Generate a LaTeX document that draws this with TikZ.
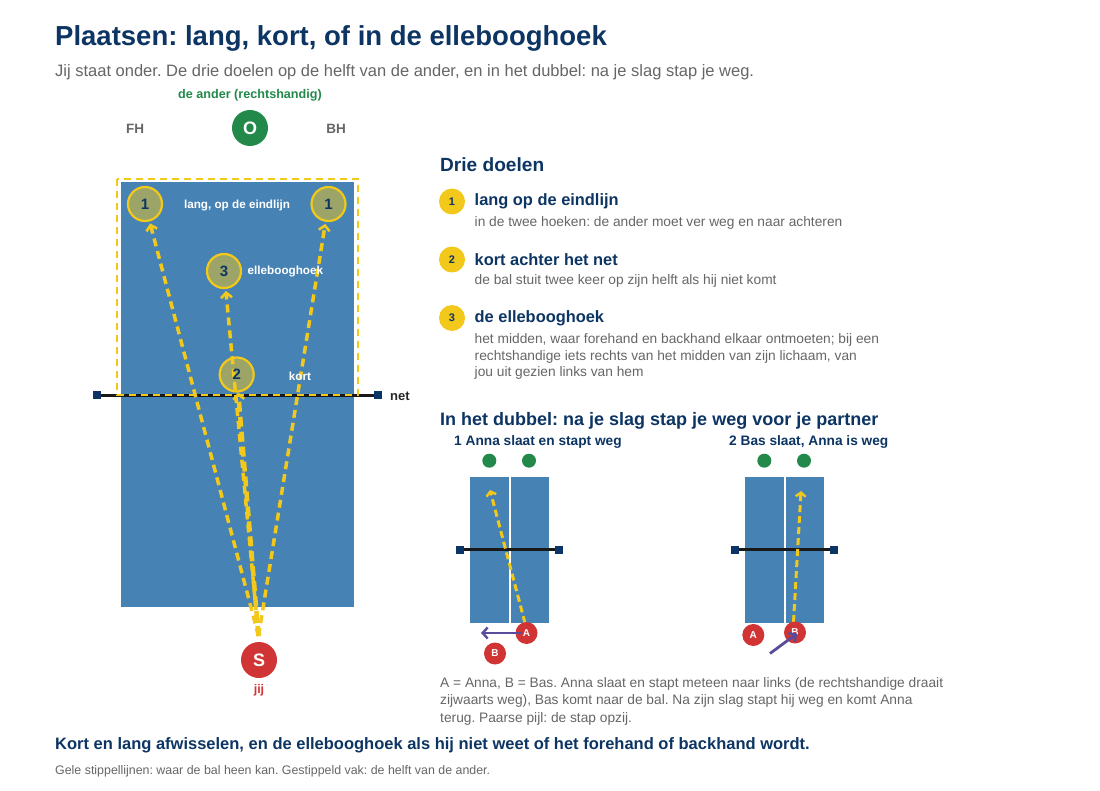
\documentclass[tikz,border=0pt]{standalone}
\usepackage{fontspec}
\setmainfont{Liberation Sans}
\usetikzlibrary{arrows.meta}
\definecolor{navy}{HTML}{0D3563}
\definecolor{txtgray}{HTML}{666666}
\definecolor{oppgreen}{HTML}{22894A}
\definecolor{tblue}{HTML}{4682B4}
\definecolor{ballyel}{HTML}{F2C81B}
\definecolor{pred}{HTML}{D03434}
\definecolor{netnavy}{HTML}{0B3566}
\definecolor{purp}{HTML}{5B4B9B}
\newcommand{\fsz}[1]{\fontsize{#1}{#1}\selectfont}
\frenchspacing
\pgfdeclarelayer{back}
\pgfdeclarelayer{mid}
\pgfsetlayers{back,mid,main}
\begin{document}
\begin{tikzpicture}[x=1pt,y=-1pt,
  txt/.style={inner sep=0pt, anchor=west},
  target/.style={circle, draw=ballyel, line width=2.2pt, fill=ballyel, fill opacity=0.5, text opacity=1, minimum size=34pt, inner sep=0pt, font=\bfseries\fsz{15}, text=navy},
  badge/.style={circle, fill=ballyel, minimum size=26pt, inner sep=0pt, font=\bfseries\fsz{11}, text=navy},
  ballpath/.style={draw=ballyel, line width=3.5pt, dash pattern=on 8pt off 5pt, -{Straight Barb[length=5pt,width=11pt,line width=2.6pt]}},
  smallpath/.style={draw=ballyel, line width=3pt, dash pattern=on 7pt off 4pt, -{Straight Barb[length=4pt,width=10pt,line width=2.4pt]}},
  steparrow/.style={draw=purp, line width=2.8pt, -{Straight Barb[length=5pt,width=11pt,line width=2.4pt]}},
  player/.style={circle, fill=pred, text=white, inner sep=0pt, minimum size=36pt, font=\bfseries\fsz{18}},
  smallplayer/.style={circle, fill=pred, text=white, inner sep=0pt, minimum size=22pt, font=\bfseries\fsz{10}},
  gdot/.style={circle, fill=oppgreen, inner sep=0pt, minimum size=14pt},
  netend/.style={rectangle, fill=netnavy, inner sep=0pt, minimum size=8pt},
  netline/.style={draw=black!90, line width=3pt},
  tablebox/.style={fill=tblue, draw=white, line width=1.5pt},
  desc/.style={txt, text=txtgray, font=\fsz{13.75}},
  head/.style={txt, text=navy, font=\bfseries\fsz{16.4}},
]
\useasboundingbox (0,0) rectangle (1100,791);
\begin{pgfonlayer}{back}
\fill[white] (0,0) rectangle (1100,791);
\end{pgfonlayer}

% titles
\node[txt, text=navy, font=\bfseries\fsz{27.5}] (title) at (55,38) {Plaatsen: lang, kort, of in de ellebooghoek};
\node[txt, text=txtgray, font=\fsz{16.5}] (subtitle) at (55,72) {Jij staat onder. De drie doelen op de helft van de ander, en in het dubbel: na je slag stap je weg.};

% opponent
\node[inner sep=0pt, text=oppgreen, font=\bfseries\fsz{12.6}] (anderlbl) at (250,95) {de ander (rechtshandig)};
\node[inner sep=0pt, text=txtgray, font=\bfseries\fsz{13.5}] (fh) at (135,129) {FH};
\node[inner sep=0pt, text=txtgray, font=\bfseries\fsz{13.5}] (bh) at (336,129) {BH};
\node[circle, fill=oppgreen, text=white, inner sep=0pt, minimum size=36pt, font=\bfseries\fsz{18}] (O) at (250,128) {O};

% main table
\begin{pgfonlayer}{back}
\path[tablebox] (120,181) rectangle (355,608);
\draw[netline] (96.5,395) -- (378,395);
\draw[ballyel, line width=2.6pt, dash pattern=on 7pt off 5pt] (117,179) rectangle (358,395);
\end{pgfonlayer}
\node[netend] (netL) at (96.5,395) {};
\node[netend] (netR) at (378,395) {};
\node[txt, text=black!85, font=\bfseries\fsz{13}] (netlbl) at (390,396) {net};

% targets
\node[target] (t1l) at (145,204) {1};
\node[target] (t1r) at (328.5,204) {1};
\node[target] (t3) at (224,271) {3};
\node[target] (t2) at (236.7,374.5) {2};
\node[inner sep=0pt, text=white, font=\bfseries\fsz{11.7}] (langlbl) at (237,206) {lang, op de eindlijn};
\node[txt, text=white, font=\bfseries\fsz{11.7}] (ellbl) at (247.5,271.5) {ellebooghoek};
\node[inner sep=0pt, text=white, font=\bfseries\fsz{11.7}] (kortlbl) at (300,376) {kort};

% player S
\node[player] (S) at (259,660) {S};
\node[inner sep=0pt, text=pred, font=\bfseries\fsz{12.5}] (jij) at (259,690) {jij};
\coordinate (src) at (258.5,636);
\begin{pgfonlayer}{mid}
\draw[ballpath, shorten >=2pt] (src) -- (t1l);
\draw[ballpath, shorten >=2pt] (src) -- (t1r);
\draw[ballpath, shorten >=2pt] (src) -- (t3);
\draw[ballpath, line width=4.5pt, dash pattern=on 10pt off 5pt] (src) -- (t2);
\end{pgfonlayer}

% right panel: three goals
\node[txt, text=navy, font=\bfseries\fsz{19.1}] (drie) at (440,165) {Drie doelen};
\node[badge] (b1) at (452,201.5) {1};
\node[badge] (b2) at (452,259.5) {2};
\node[badge] (b3) at (452,318) {3};
\node[head] (h1) at (474.5,201) {lang op de eindlijn};
\node[head] (h2) at (474.5,259.5) {kort achter het net};
\node[head] (h3) at (474.5,318) {de ellebooghoek};
\node[desc] (d1) at (474.5,222.5) {in de twee hoeken: de ander moet ver weg en naar achteren};
\node[desc] (d2) at (474.5,281) {de bal stuit twee keer op zijn helft als hij niet komt};
\node[desc] (d3a) at (474.5,340) {het midden, waar forehand en backhand elkaar ontmoeten; bij een};
\node[desc] (d3b) at (474.5,356.5) {rechtshandige iets rechts van het midden van zijn lichaam, van};
\node[desc] (d3c) at (474.5,373) {jou uit gezien links van hem};

% doubles
\node[txt, text=navy, font=\bfseries\fsz{18}] (dubbel) at (440,420.5) {In het dubbel: na je slag stap je weg voor je partner};
\node[txt, text=navy, font=\bfseries\fsz{13.7}] (cap1) at (454,442) {1 Anna slaat en stapt weg};
\node[txt, text=navy, font=\bfseries\fsz{13.7}] (cap2) at (729,442) {2 Bas slaat, Anna is weg};

% small table 1
\path[tablebox] (469.5,476.5) rectangle (549.5,623.5);
\draw[white, line width=2pt] (509.5,476.5) -- (509.5,623.5);
\draw[netline] (460,549.5) -- (558.5,549.5);
\node[netend] (n1L) at (460,549.5) {};
\node[netend] (n1R) at (558.5,549.5) {};
\node[gdot] (g1a) at (489.3,460.7) {};
\node[gdot] (g1b) at (529,460.7) {};
\coordinate (ball1) at (490,490);
\coordinate (a1src) at (525,623);
\coordinate (a1step) at (481,633);
\coordinate (a1from) at (522,633);
\draw[smallpath] (a1src) -- (ball1);
\node[smallplayer] (A1) at (526.5,633) {A};
\node[smallplayer] (B1) at (495,653.5) {B};
\draw[steparrow] (a1from) -- (a1step);

% small table 2
\path[tablebox] (744.5,476.5) rectangle (824.5,623.5);
\draw[white, line width=2pt] (784.5,476.5) -- (784.5,623.5);
\draw[netline] (735,549.5) -- (833.5,549.5);
\node[netend] (n2L) at (735,549.5) {};
\node[netend] (n2R) at (833.5,549.5) {};
\node[gdot] (g2a) at (764.3,460.7) {};
\node[gdot] (g2b) at (804,460.7) {};
\coordinate (ball2) at (801,491);
\coordinate (b2src) at (793.5,622);
\coordinate (b2from) at (770,653.5);
\coordinate (b2to) at (797,633.5);
\draw[smallpath] (b2src) -- (ball2);
\node[smallplayer] (A2) at (753.3,635) {A};
\node[smallplayer] (B2) at (795,632.5) {B};
\draw[steparrow] (b2from) -- (b2to);

% caption
\node[desc] (c1) at (440,683.5) {A = Anna, B = Bas. Anna slaat en stapt meteen naar links (de rechtshandige draait};
\node[desc] (c2) at (440,701) {zijwaarts weg), Bas komt naar de bal. Na zijn slag stapt hij weg en komt Anna};
\node[desc] (c3) at (440,718.5) {terug. Paarse pijl: de stap opzij.};

% footer
\node[txt, text=navy, font=\bfseries\fsz{16.5}] (foot) at (55,745.5) {Kort en lang afwisselen, en de ellebooghoek als hij niet weet of het forehand of backhand wordt.};
\node[txt, text=txtgray, font=\fsz{12.4}] (note) at (55,771) {Gele stippellijnen: waar de bal heen kan. Gestippeld vak: de helft van de ander.};
\end{tikzpicture}
\end{document}
